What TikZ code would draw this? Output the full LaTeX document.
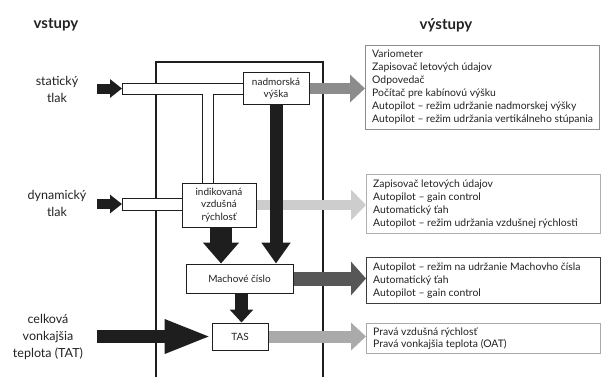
\documentclass[tikz,border=0pt]{standalone}
\usepackage{fontspec}
\setmainfont{Lato}
\usetikzlibrary{arrows.meta,calc}
\definecolor{blk}{HTML}{1E1E1E}
\definecolor{gA}{HTML}{8C8C8C}
\definecolor{gB}{HTML}{CDCDCD}
\definecolor{gC}{HTML}{575757}
\definecolor{gD}{HTML}{AAAAAA}
\definecolor{txt}{HTML}{222222}
\tikzset{
  procbox/.style={draw=blk, line width=1pt, fill=white, inner sep=0pt, align=center, text=txt,
    font=\fontsize{10}{12.5}\selectfont},
  outbox/.style={draw=#1, line width=1pt, fill=white, inner sep=0pt, anchor=north west, minimum width=234pt},
  outtext/.style={anchor=west, align=left, inner sep=0pt, text=txt, font=\fontsize{10.4}{13}\selectfont},
  inlabel/.style={align=center, text=txt, font=\fontsize{12.5}{17}\selectfont},
  heading/.style={text=txt, font=\fontsize{15}{18}\selectfont\bfseries},
  pipe/.style={draw=blk, line width=1pt, fill=white},
  frame/.style={draw=blk, line width=1.8pt},
}
\begin{document}
\begin{tikzpicture}[x=1pt,y=-1pt]
\useasboundingbox (0,0) rectangle (601,376);
% headings
\node[heading] (hin) at (56,25) {vstupy};
\node[heading] (hout) at (446,25) {výstupy};
% input labels
\node[inlabel] (lstat) at (57,89) {statický\\tlak};
\node[inlabel] (ldyn) at (57,203) {dynamický\\tlak};
\node[inlabel] (ltat) at (48,337) {celková\\vonkajšia\\teplota (TAT)};
% frame
\draw[frame] (156,380) -- (156,62) -- (323,62) -- (323,380);
% pipes
\draw[pipe] (122,83) -- (243,83) -- (243,94) -- (213,94) -- (213,183) -- (202,183) -- (202,94) -- (122,94) -- cycle;
\draw[pipe] (122,198) -- (182,198) -- (182,210) -- (122,210) -- cycle;
\coordinate (sp) at (122,88.5);
\coordinate (dp) at (122,204);
\coordinate (sin) at (97,88.5);
\coordinate (din) at (97,204);
\coordinate (tin) at (97,336.5);
% processing boxes
\node[procbox, minimum width=66pt, minimum height=32pt] (nad) at (276,88.5) {nadmorská\\výška};
\node[procbox, minimum width=74pt, minimum height=44pt] (ind) at (219,205) {indikovaná\\vzdušná\\rýchlosť};
\node[procbox, minimum width=107pt, minimum height=29pt] (mach) at (239.5,278.5) {Machové číslo};
\node[procbox, minimum width=56pt, minimum height=27pt] (tas) at (240,336.5) {TAS};
% output boxes
\node[outbox=gA, minimum height=84pt] (o1) at (365,45) {};
\node[outtext] (t1) at ([xshift=7pt]o1.west) {Variometer\\Zapisovač letových údajov\\Odpovedač\\Počítač pre kabínovú výšku\\Autopilot – režim udržanie nadmorskej výšky\\Autopilot – režim udržania vertikálneho stúpania};
\node[outbox=gB!85!black, minimum height=59pt] (o2) at (366,174) {};
\node[outtext] (t2) at ([xshift=7pt]o2.west) {Zapisovač letových údajov\\Autopilot – gain control\\Automatický ťah\\Autopilot – režim udržania vzdušnej rýchlosti};
\node[outbox=gC!70!black, minimum height=46pt] (o3) at (366,257) {};
\node[outtext] (t3) at ([xshift=7pt]o3.west) {Autopilot – režim na udržanie Machovho čísla\\Automatický ťah\\Autopilot – gain control};
\node[outbox=gD, minimum height=30pt] (o4) at (366,323) {};
\node[outtext, font=\fontsize{10.4}{11.5}\selectfont] (t4) at ([xshift=7pt]o4.west) {Pravá vzdušná rýchlosť\\Pravá vonkajšia teplota (OAT)};
% output arrows
\draw[gA, line width=11pt, -{Triangle[length=15pt,width=27pt]}] (nad.east) -- (nad.east -| o1.west);
\draw[gB, line width=10pt, -{Triangle[length=15pt,width=30pt]}] (ind.east) -- (ind.east -| o2.west);
\draw[gC, line width=14pt, -{Triangle[length=15pt,width=33pt]}] (mach.east) -- (mach.east -| o3.west);
\draw[gD, line width=12pt, -{Triangle[length=15pt,width=27pt]}] (tas.east) -- (tas.east -| o4.west);
% input arrows
\draw[blk, line width=10pt, -{Triangle[length=12pt,width=18pt]}] (sin) -- (sp);
\draw[blk, line width=10pt, -{Triangle[length=12pt,width=18pt]}] (din) -- (dp);
\draw[blk, line width=13pt, -{Triangle[length=47pt,width=31pt]}] (tin) -- (tas.west);
% internal arrows
\draw[blk, line width=13pt, -{Triangle[length=21pt,width=28pt]}] (nad.south) -- (nad.south |- mach.north);
\draw[blk, line width=22pt, -{Triangle[length=21pt,width=35pt]}] ([xshift=2pt]ind.south) -- ([xshift=2pt]ind.south |- mach.north);
\draw[blk, line width=13pt, -{Triangle[length=13pt,width=23pt]}] ([xshift=2pt]mach.south) -- ([xshift=2pt]mach.south |- tas.north);
\end{tikzpicture}
\end{document}
